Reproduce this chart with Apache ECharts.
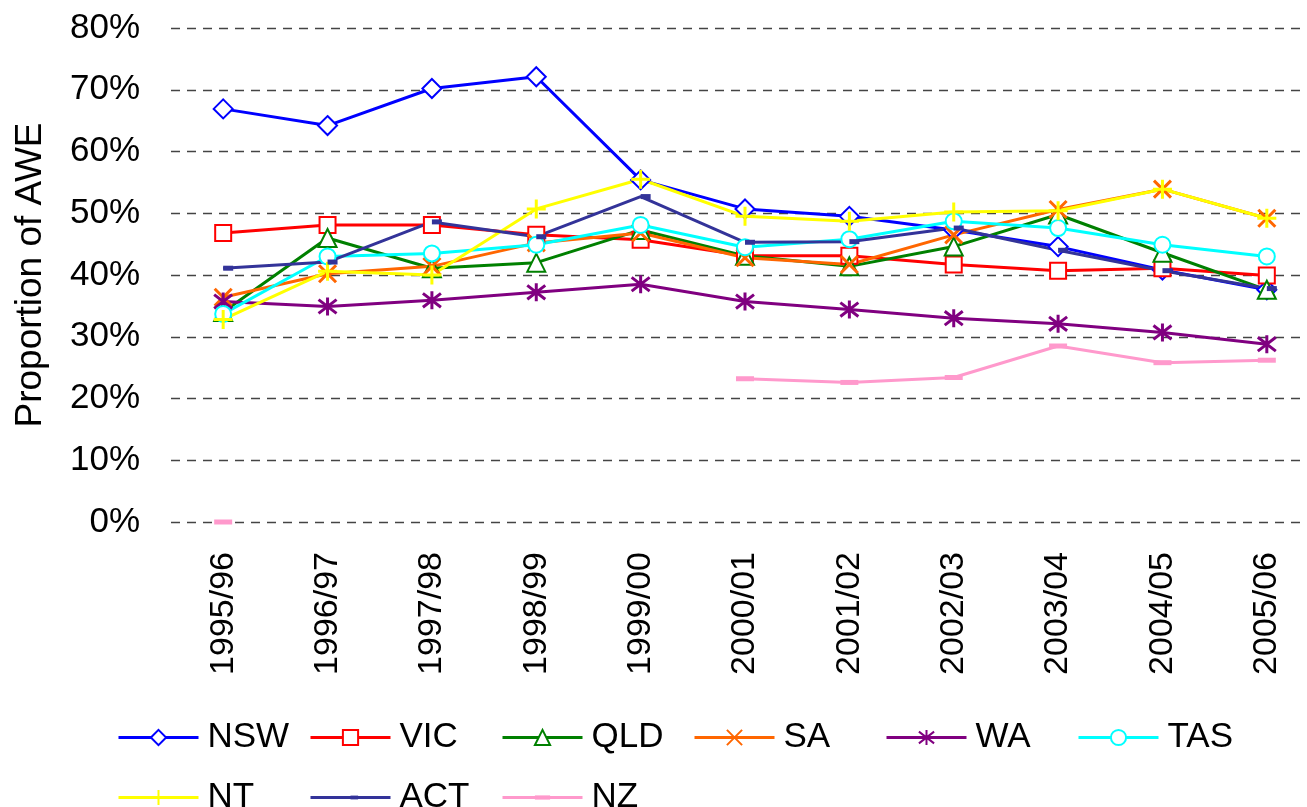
<!DOCTYPE html>
<html>
<head>
<meta charset="utf-8">
<script src="https://cdn.jsdelivr.net/npm/echarts@6/dist/echarts.min.js"></script>
<style>
html,body{margin:0;padding:0;background:#fff;}
#c{width:1307px;height:807px;}
</style>
</head>
<body>
<div id="c"></div>
<script>
const categories = ['1995/96','1996/97','1997/98','1998/99','1999/00','2000/01','2001/02','2002/03','2003/04','2004/05','2005/06'];
const yTicks = [0,10,20,30,40,50,60,70,80];

const NSW = [66.9,64.2,70.2,72.1,55.4,50.7,49.5,47.3,44.6,40.8,37.6];
const VIC = [46.8,48.1,48.1,46.5,45.7,43.1,43.1,41.7,40.7,41.1,39.9];
const QLD = [34.0,46.0,41.1,42.0,47.3,43.1,41.4,44.6,49.8,43.6,37.6];
const SA  = [36.4,40.2,41.4,45.2,46.8,42.8,41.7,46.5,50.6,53.9,49.2];
const WA  = [35.7,34.9,35.9,37.2,38.5,35.7,34.4,33.0,32.1,30.7,28.8];
const TAS = [33.7,43.0,43.5,44.9,48.1,44.5,45.8,48.7,47.6,44.9,43.0];
const NT  = [32.8,40.6,40.0,50.7,55.5,49.5,48.7,50.2,50.4,53.9,49.2];
const ACT = [41.1,42.1,48.6,46.2,52.7,45.3,45.4,47.6,44.0,40.7,37.8];
const NZ  = [0,null,null,null,null,23.2,22.6,23.4,28.5,25.8,26.2];

const seriesDefs = [
  {name:'NSW', data:NSW, color:'#0000FF', symbol:'emptyDiamond', size:19, kind:'empty'},
  {name:'VIC', data:VIC, color:'#FF0000', symbol:'emptyRect', size:16, kind:'empty'},
  {name:'QLD', data:QLD, color:'#008000', symbol:'emptyTriangle', size:18, kind:'empty'},
  {name:'SA',  data:SA,  color:'#FF6600', symbol:'path://M0,0L10,10M10,0L0,10', size:17, kind:'stroke'},
  {name:'WA',  data:WA,  color:'#800080', symbol:'path://M0,0L10,10M10,0L0,10M5,-1.5L5,11.5', size:18, kind:'stroke'},
  {name:'TAS', data:TAS, color:'#00FFFF', symbol:'emptyCircle', size:16, kind:'empty'},
  {name:'NT',  data:NT,  color:'#FFFF00', symbol:'path://M5,0L5,10M0,5L10,5', size:19, kind:'stroke'},
  {name:'ACT', data:ACT, color:'#333399', symbol:'path://M0,0L0,0M20,20L20,20M10,7.5L20,7.5L20,12.5L10,12.5Z', size:20, kind:'fill'},
  {name:'NZ',  data:NZ,  color:'#FF99CC', symbol:'path://M0,0L0,0M18,18L18,18M0,6.5L18,6.5L18,11.5L0,11.5Z', size:18, kind:'fill'}
];

const series = seriesDefs.map(d => {
  const s = {
    name: d.name, type: 'line', data: d.data,
    symbol: d.symbol, symbolSize: d.size, showAllSymbol: true,
    connectNulls: false,
    lineStyle: {color: d.color, width: 3},
    itemStyle: {color: d.color},
    emphasis: {disabled: true}
  };
  if (d.kind === 'empty' || d.kind === 'stroke') {
    s.itemStyle = {color: d.color, borderColor: d.color, borderWidth: 3};
  } else {
    s.itemStyle = {color: d.color, borderWidth: 0};
  }
  return s;
});

const legendPos = [
  [117,735],[309,735],[501,735],[693,735],[885,735],[1077,735],
  [117,795],[309,795],[501,795]
];
const legends = seriesDefs.map((d,i) => ({
  data: [d.name],
  left: legendPos[i][0],
  top: legendPos[i][1] - 15,
  padding: 0,
  itemWidth: 80, itemHeight: 19, itemGap: 0,
  lineStyle: {width: 3},
  textStyle: {fontFamily: 'Liberation Sans, Arial, sans-serif', fontSize: 35, color: '#000', padding: [0,0,0,4]},
  selectedMode: false
}));

const chart = echarts.init(document.getElementById('c'), null, {renderer: 'canvas'});
chart.setOption({
  animation: false,
  backgroundColor: '#fff',
  textStyle: {fontFamily: 'Liberation Sans, Arial, sans-serif'},
  legend: legends,
  grid: {left: 171, top: 28, width: 1148, height: 494, containLabel: false, outerBoundsMode: 'none'},
  xAxis: {
    type: 'category', data: categories, boundaryGap: true,
    axisLine: {show: false}, axisTick: {show: false},
    axisLabel: {rotate: 90, margin: 30, fontSize: 34, color: '#000', fontFamily: 'Liberation Sans, Arial, sans-serif', interval: 0},
    splitLine: {show: false}
  },
  yAxis: {
    type: 'value', min: yTicks[0], max: yTicks[yTicks.length-1], interval: 10,
    name: 'Proportion of AWE', nameLocation: 'middle', nameGap: 122, nameRotate: 90,
    nameTextStyle: {fontSize: 37, color: '#000', fontFamily: 'Liberation Sans, Arial, sans-serif'},
    axisLine: {show: false}, axisTick: {show: false},
    axisLabel: {formatter: '{value}%', margin: 31, fontSize: 35, color: '#000', fontFamily: 'Liberation Sans, Arial, sans-serif'},
    splitLine: {show: true, lineStyle: {color: '#444', width: 1.3, type: [9,7]}}
  },
  series: series
});
</script>
</body>
</html>
